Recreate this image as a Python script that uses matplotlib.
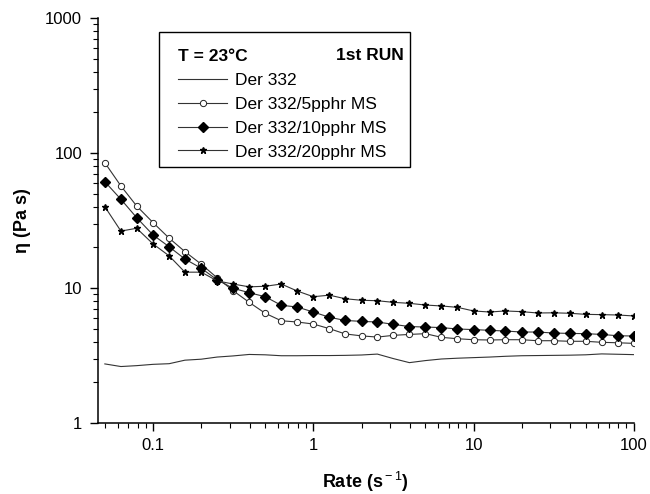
import numpy as np
import matplotlib
matplotlib.use('Agg')
import matplotlib.pyplot as plt
from matplotlib.patches import Rectangle
from matplotlib.ticker import FixedLocator, NullFormatter, LogLocator

plt.rcParams['font.family'] = ['Liberation Sans', 'DejaVu Sans']
plt.rcParams['mathtext.fontset'] = 'custom'
plt.rcParams['mathtext.rm'] = 'Liberation Sans'
plt.rcParams['mathtext.bf'] = 'Liberation Sans:bold'

# Shear rate (1/s), 10 points per decade
rate = [0.05, 0.063, 0.079,
        0.1, 0.126, 0.158, 0.2, 0.251, 0.316, 0.398, 0.501, 0.631, 0.794,
        1.0, 1.26, 1.58, 2.0, 2.51, 3.16, 3.98, 5.01, 6.31, 7.94,
        10, 12.6, 15.8, 20, 25.1, 31.6, 39.8, 50.1, 63.1, 79.4,
        100]

# Viscosity (Pa s)
der332 = [2.74, 2.62, 2.66, 2.72, 2.75, 2.92, 2.97, 3.08, 3.14, 3.22,
          3.20, 3.15, 3.15, 3.16, 3.16, 3.17, 3.19, 3.24, 3.00, 2.80,
          2.90, 2.98, 3.02, 3.05, 3.08, 3.12, 3.15, 3.16, 3.17, 3.18,
          3.20, 3.25, 3.23, 3.21]
ms5 = [84.7, 57.0, 40.5, 30.5, 23.4, 18.6, 15.0, 11.9, 9.55, 7.83,
       6.50, 5.72, 5.60, 5.41, 5.00, 4.57, 4.42, 4.33, 4.46, 4.53,
       4.59, 4.31, 4.21, 4.14, 4.12, 4.14, 4.14, 4.07, 4.07, 4.03,
       4.03, 3.96, 3.93, 3.89]
ms10 = [61.3, 45.4, 33.2, 24.7, 20.2, 16.4, 14.0, 11.5, 9.95, 9.23,
        8.62, 7.45, 7.23, 6.64, 6.07, 5.75, 5.66, 5.60, 5.38, 5.18,
        5.14, 5.09, 4.97, 4.92, 4.86, 4.80, 4.72, 4.72, 4.64, 4.61,
        4.59, 4.53, 4.43, 4.41]
ms20 = [40.0, 26.4, 27.7, 21.2, 17.3, 13.1, 13.1, 11.3, 10.7, 10.2,
        10.3, 10.7, 9.5, 8.62, 8.85, 8.33, 8.11, 8.05, 7.83, 7.70,
        7.48, 7.36, 7.19, 6.76, 6.64, 6.76, 6.68, 6.53, 6.55, 6.50,
        6.38, 6.35, 6.31, 6.21]

fig = plt.figure(figsize=(6.5, 4.94), dpi=100)
ax = fig.add_axes([0.150, 0.1437, 0.825, 0.8199])

lc = '#333333'
ax.plot(rate, der332, '-', color=lc, lw=0.8, label='Der 332')
ax.plot(rate, ms5, '-o', color=lc, lw=0.8, ms=4.5, mfc='white', mec='#222222',
        mew=0.7, label='Der 332/5pphr MS')
ax.plot(rate, ms10, '-D', color=lc, lw=0.8, ms=5, mfc='black', mec='black',
        label='Der 332/10pphr MS')
ax.plot(rate, ms20, '-*', color=lc, lw=0.8, ms=5, mfc='black', mec='black',
        label='Der 332/20pphr MS')

ax.set_xscale('log')
ax.set_yscale('log')
ax.set_xlim(0.045, 100)
ax.set_ylim(1, 1000)

ax.spines['top'].set_visible(False)
ax.spines['right'].set_visible(False)
for s in ['left', 'bottom']:
    ax.spines[s].set_linewidth(1.1)

ax.xaxis.set_major_locator(FixedLocator([0.1, 1, 10, 100]))
ax.set_xticklabels(['0.1', '1', '10', '100'])
ax.yaxis.set_major_locator(FixedLocator([1, 10, 100, 1000]))
ax.set_yticklabels(['1', '10', '100', '1000'])
ax.xaxis.set_minor_locator(LogLocator(base=10, subs=np.arange(2, 10)))
ax.yaxis.set_minor_locator(LogLocator(base=10, subs=np.arange(2, 10)))
ax.xaxis.set_minor_formatter(NullFormatter())
ax.yaxis.set_minor_formatter(NullFormatter())
ax.tick_params(which='major', direction='out', length=6, width=1, labelsize=12,
               pad=5)
ax.tick_params(which='minor', direction='out', length=3.5, width=0.8)

ax.set_xlabel(r'Rate (s$^{\rm -1}$)', fontsize=13, fontweight='bold', labelpad=12)
ax.set_ylabel('η (Pa s)', fontsize=13, fontweight='bold', labelpad=10)

# legend box drawn by hand, legend itself without frame
ax.add_patch(Rectangle((0.1143, 0.632), 0.4683, 0.333, transform=ax.transAxes,
                       fill=False, ec='black', lw=1.0, zorder=6))
leg = ax.legend(loc='upper left', bbox_to_anchor=(0.151, 0.923),
                title='T = 23°C', alignment='left', fontsize=12.5,
                title_fontproperties={'weight': 'bold', 'size': 12.5},
                frameon=False, handlelength=2.8, handletextpad=0.45,
                labelspacing=0.5, borderpad=0, borderaxespad=0)
leg.set_zorder(7)
ax.text(0.571, 0.907, '1st RUN', transform=ax.transAxes, fontsize=12.5,
        fontweight='bold', ha='right', va='center', zorder=8)

fig.savefig('out.png', dpi=100)
